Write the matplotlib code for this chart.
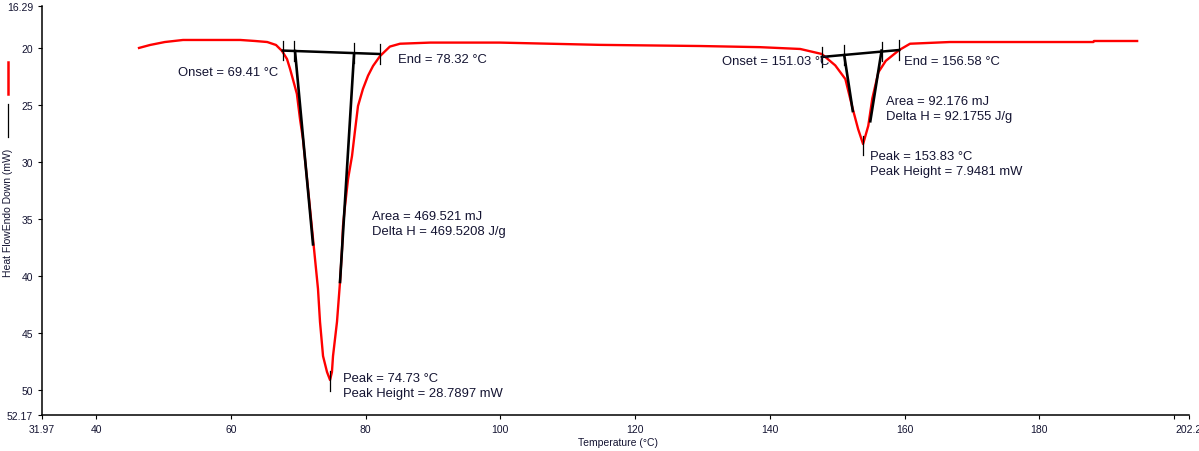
import numpy as np
import matplotlib
matplotlib.use("Agg")
import matplotlib.pyplot as plt
from matplotlib.lines import Line2D

plt.rcParams['font.family'] = ['Liberation Sans', 'DejaVu Sans']

# DSC heat flow curve (temperature in C, heat flow in mW, endo down)
temp = [46.37, 48.0, 50.2, 52.9, 56.9, 61.4, 63.6, 65.4, 66.7, 67.6, 68.33, 68.78,
        69.2, 69.8, 70.26, 70.7, 71.6, 72.19, 72.93, 73.23, 73.68, 74.27, 74.72,
        75.0, 75.16, 75.75, 76.2, 76.5, 76.64, 76.94, 77.39, 77.98, 78.4, 78.87,
        79.6, 80.36, 81.1, 82.14, 83.6, 85.1, 89.6, 99.9, 114.8,
        129.6, 138.5, 144.5, 147.7, 149.7, 151.2, 152.2, 153.1, 153.83, 154.6,
        155.2, 156.1, 157.2, 159.2, 160.8, 166.7, 174.2, 188.0, 188.1, 194.5]
heat_flow = [19.97, 19.71, 19.45, 19.27, 19.27, 19.27, 19.36, 19.45, 19.71, 20.24,
             20.94, 21.8, 22.7, 24.0, 26.2, 27.96, 33.2, 36.7, 41.1, 44.0, 47.0,
             48.4, 49.1, 48.4, 47.0, 44.0, 40.5, 37.6, 35.6, 33.83, 31.47, 29.45,
             27.34, 25.06, 23.57, 22.4, 21.55, 20.68, 19.85, 19.6, 19.5, 19.5, 19.7,
             19.8, 19.9, 20.06, 20.5, 21.5, 22.7, 25.1, 27.1, 28.4,
             26.8, 24.4, 22.1, 21.1, 20.15, 19.6, 19.45, 19.45, 19.45, 19.36, 19.36]

# peak analysis constructions: baselines, tangents, limit ticks
base1_x = [67.7, 82.1]
base1_y = [20.2, 20.5]
tan1_left_x = [69.52, 72.19]
tan1_left_y = [20.24, 37.2]
tan1_right_x = [78.28, 76.2]
tan1_right_y = [20.5, 40.5]
ticks1_x = [67.7, 69.41, 78.32, 82.1]
peak1 = (74.73, 49.1)

base2_x = [147.7, 159.2]
base2_y = [20.76, 20.15]
tan2_left_x = [151.03, 152.3]
tan2_left_y = [20.6, 25.5]
tan2_right_x = [156.58, 154.9]
tan2_right_y = [20.2, 26.4]
ticks2_x = [147.7, 151.03, 156.58, 159.2]
peak2 = (153.83, 28.45)

x_ticks = [31.97, 40, 60, 80, 100, 120, 140, 160, 180, 200, 202.2]
x_labels = ['31.97', '40', '60', '80', '100', '120', '140', '160', '180', '', '202.2']
y_ticks = [16.29, 20, 25, 30, 35, 40, 45, 50, 52.17]
y_labels = ['16.29', '20', '25', '30', '35', '40', '45', '50', '52.17']

annotations = [
    ("Onset = 69.41 \u00b0C", 52.15, 22.08),
    ("End = 78.32 \u00b0C", 84.8, 20.94),
    ("Area = 469.521 mJ\nDelta H = 469.5208 J/g", 80.95, 35.4),
    ("Peak = 74.73 \u00b0C\nPeak Height = 28.7897 mW", 76.64, 49.6),
    ("Onset = 151.03 \u00b0C", 132.9, 21.1),
    ("End = 156.58 \u00b0C", 159.9, 21.1),
    ("Area = 92.176 mJ\nDelta H = 92.1755 J/g", 157.24, 25.3),
    ("Peak = 153.83 \u00b0C\nPeak Height = 7.9481 mW", 154.9, 30.1),
]

text_color = '#141432'

fig = plt.figure(figsize=(11.99, 4.52), dpi=100)
ax = fig.add_axes([42 / 1199, 36 / 452, 1147 / 1199, 409 / 452])

ax.plot(temp, heat_flow, color='#ff0000', lw=1.7, solid_joinstyle='round', zorder=2)


def interp_base(bx, by, x):
    return np.interp(x, bx, by)


for bx, by, lx, ly, rx, ry, tx, pk in [
        (base1_x, base1_y, tan1_left_x, tan1_left_y, tan1_right_x, tan1_right_y, ticks1_x, peak1),
        (base2_x, base2_y, tan2_left_x, tan2_left_y, tan2_right_x, tan2_right_y, ticks2_x, peak2)]:
    ax.plot(bx, by, color='black', lw=1.8, zorder=3)
    ax.plot(lx, ly, color='black', lw=1.9, zorder=3)
    ax.plot(rx, ry, color='black', lw=1.9, zorder=3)
    for x in tx:
        yb = interp_base(bx, by, x)
        ax.plot([x, x], [yb - 0.85, yb + 0.85], color='black', lw=0.9, zorder=3)
    ax.plot([pk[0], pk[0]], [pk[1] - 0.75, pk[1] + 0.95], color='black', lw=0.9, zorder=3)

for txt, x, y in annotations:
    ax.text(x, y, txt, fontsize=9.4, color=text_color, va='center', ha='left',
            linespacing=1.35)

ax.set_xlim(31.97, 202.2)
ax.set_ylim(52.17, 16.29)
ax.set_xticks(x_ticks)
ax.set_xticklabels(x_labels)
ax.set_yticks(y_ticks)
ax.set_yticklabels(y_labels)
ax.tick_params(direction='out', length=3, width=0.8, labelsize=7.5,
               labelcolor=text_color, pad=3.5)

for side in ['top', 'right']:
    ax.spines[side].set_visible(False)
for side in ['left', 'bottom']:
    ax.spines[side].set_linewidth(1.1)

fig.text(618 / 1199, 1 - 443 / 452, "Temperature (\u00b0C)", fontsize=7.5,
         color=text_color, ha='center', va='center')
fig.text(8 / 1199, 1 - 213 / 452, "Heat FlowEndo Down (mW)", fontsize=7.5,
         color=text_color, ha='center', va='center', rotation=90)

# legend strokes on the left edge
fig.add_artist(Line2D([8 / 1199, 8 / 1199], [1 - 63 / 452, 1 - 95 / 452],
                      color='#ff0000', lw=1.8))
fig.add_artist(Line2D([8 / 1199, 8 / 1199], [1 - 105 / 452, 1 - 138 / 452],
                      color='black', lw=0.9))

fig.savefig("out.png", dpi=100, facecolor='white')
